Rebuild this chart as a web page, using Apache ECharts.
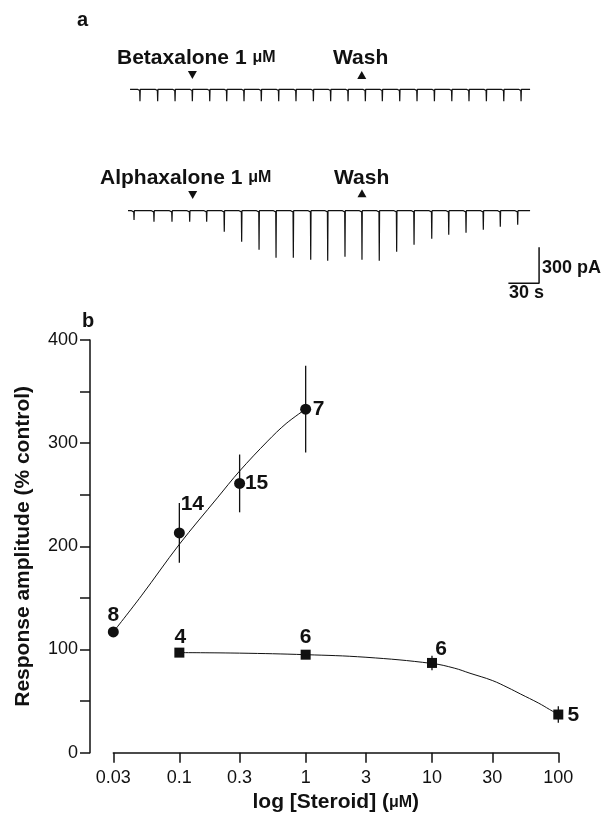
<!DOCTYPE html>
<html><head><meta charset="utf-8">
<script src="https://cdn.jsdelivr.net/npm/echarts@6/dist/echarts.min.js"></script>
<style>html,body{margin:0;padding:0;background:#fff}#c{width:612px;height:815px}</style>
</head><body><div id="c"></div>
<script>
// ---------- Panel b: dose-response ----------
const concA = [0.03, 0.1, 0.3, 1];          // alphaxalone (µM)
const meanA = [117, 213, 261, 333];         // % control
const semA  = [0, 29, 28, 42];
const nA    = [8, 14, 15, 7];
const concB = [0.1, 1, 10, 100];            // betaxalone (µM)
const meanB = [97, 95, 87, 37];
const semB  = [0, 0, 7, 8];
const nB    = [4, 6, 6, 5];
// fitted curves
const fitAx = [0.03, 0.05, 0.1, 0.2, 0.3, 0.5, 0.7, 1];
const fitAy = [117, 152, 202, 247, 273, 302, 319, 333];
const fitBx = [0.1, 0.3, 1, 3, 10, 15, 20, 30, 40, 50, 70, 85, 100];
const fitBy = [97, 96.5, 95, 92.5, 86.5, 82, 77, 70, 63, 57, 48, 42, 37];
const xTicks = [0.03, 0.1, 0.3, 1, 3, 10, 30, 100];
const xTickLabels = ['0.03', '0.1', '0.3', '1', '3', '10', '30', '100'];
const yTicks = [0, 100, 200, 300, 400];

// ---------- Panel a: current traces ----------
const betaTimes  = [11.7, 29, 46, 62.9, 79.9, 96.5, 113.4, 130.3, 147.3, 164.2, 181.2, 198.1, 215.1, 232, 248.6, 265.6, 282.5, 299.5, 316.5, 333.3, 350.3, 367.3, 384.2]; // s
const betaAmps   = [100, 100, 100, 100, 100, 100, 100, 100, 100, 100, 100, 100, 100, 100, 100, 100, 100, 100, 100, 100, 100, 100, 100]; // pA
const alphaTimes = [5.9, 25.4, 43, 60.3, 76.9, 94.1, 111.1, 128.1, 144.7, 161.6, 178.6, 195.2, 212.1, 228.7, 245.6, 262.6, 279.6, 296.9, 313.5, 330.4, 347.3, 363.9, 380.9];
const alphaAmps  = [78, 92, 92, 92, 92, 175, 258, 325, 392, 392, 408, 417, 383, 408, 417, 342, 283, 233, 200, 183, 158, 133, 117];
const betaSpan  = [2, 393];
const alphaSpan = [0, 393];
const betaEvents  = [62.9, 228.5];   // drug on, wash
const alphaEvents = [63.2, 228.7];
const scaleBarTime = 30;   // s
const scaleBarAmp  = 300;  // pA
const scaleBarCorner = [401.8, -605];

const FONT = '"Liberation Sans", Arial, Helvetica, sans-serif';
const INK = '#111';

function buildTrace(times, amps, span) {
  const pts = [[span[0], 0]];
  times.forEach((t, i) => {
    pts.push([t - 2.5, 0], [t - 0.3, -10], [t, -amps[i]], [t + 0.3, 0]);
  });
  pts.push([span[1], 0]);
  return pts;
}
const L = v => Math.log10(v);

const posA = [[0, -17], [13, -29], [17, 0], [13, 0]];
const posB = [[1, -15], [0, -17], [9, -14], [15, 1]];

function errItem(params, api) {
  const x = api.value(0), lo = api.value(1), hi = api.value(2);
  const p1 = api.coord([x, hi]), p2 = api.coord([x, lo]);
  return { type: 'line', shape: { x1: p1[0], y1: p1[1], x2: p2[0], y2: p2[1] },
           style: { stroke: INK, lineWidth: 1.3 } };
}

function txt(x, y, text, size, weight, rich) {
  const s = { text, fill: INK, font: `${weight} ${size}px ${FONT}`, align: 'left', verticalAlign: 'middle' };
  if (rich) s.rich = rich;
  return { type: 'text', x, y, style: s };
}
const unitRich = { u: { font: `bold 16px ${FONT}`, fill: INK } };
const numLabel = { show: true, position: 'inside', color: INK, fontSize: 21, fontWeight: 'bold',
                   fontFamily: FONT, textBorderWidth: 0 };

const chart = echarts.init(document.getElementById('c'), null, { renderer: 'canvas' });
chart.setOption({
  animation: false,
  backgroundColor: '#fff',
  grid: [
    { left: 113.3, right: 53.7, top: 340, bottom: 62.3, containLabel: false, outerBoundsMode: 'none' },
    { left: 128, width: 429.7, top: 65.3, height: 48, outerBoundsMode: 'none' },
    { left: 128, width: 429.7, top: 186.7, height: 108, outerBoundsMode: 'none' }
  ],
  xAxis: [
    {
      gridIndex: 0, type: 'value', min: L(xTicks[0]), max: L(xTicks[xTicks.length - 1]),
      axisLine: { onZero: false, lineStyle: { color: INK, width: 1.5 } },
      axisTick: { customValues: xTicks.map(L), length: 10, lineStyle: { color: INK, width: 1.5 } },
      axisLabel: {
        customValues: xTicks.map(L), margin: 16, color: INK, fontSize: 18, fontFamily: FONT,
        formatter: v => { const i = xTicks.findIndex(t => Math.abs(L(t) - v) < 1e-6); return i >= 0 ? xTickLabels[i] : ''; }
      },
      splitLine: { show: false },
      name: 'log [Steroid] ({u|μM})', nameLocation: 'middle', nameGap: 38,
      nameTextStyle: { color: INK, fontSize: 21, fontWeight: 'bold', fontFamily: FONT,
        rich: { u: { fontSize: 16, fontWeight: 'bold', fontFamily: FONT, color: INK } } }
    },
    { gridIndex: 1, type: 'value', min: 0, max: 420, show: false },
    { gridIndex: 2, type: 'value', min: 0, max: 420, show: false }
  ],
  yAxis: [
    {
      gridIndex: 0, type: 'value', min: 0, max: 400, interval: 50, offset: 23.3,
      axisLine: { show: true, onZero: false, lineStyle: { color: INK, width: 1.5 } },
      axisTick: { show: true, length: 10, lineStyle: { color: INK, width: 1.5 } },
      axisLabel: { margin: 12, color: INK, fontSize: 18, fontFamily: FONT,
        formatter: v => yTicks.includes(v) ? String(v) : '' },
      splitLine: { show: false },
      name: 'Response amplitude (% control)', nameLocation: 'middle', nameGap: 56,
      nameTextStyle: { color: INK, fontSize: 21, fontWeight: 'bold', fontFamily: FONT }
    },
    { gridIndex: 1, type: 'value', min: -200, max: 200, show: false },
    { gridIndex: 2, type: 'value', min: -700, max: 200, show: false }
  ],
  series: [
    { type: 'line', xAxisIndex: 0, yAxisIndex: 0, smooth: 0.35, showSymbol: false, silent: true,
      lineStyle: { color: INK, width: 1 }, data: fitAx.map((x, i) => [L(x), fitAy[i]]) },
    { type: 'line', xAxisIndex: 0, yAxisIndex: 0, smooth: 0.4, showSymbol: false, silent: true,
      lineStyle: { color: INK, width: 1 }, data: fitBx.map((x, i) => [L(x), fitBy[i]]) },
    { type: 'custom', xAxisIndex: 0, yAxisIndex: 0, renderItem: errItem, silent: true,
      data: concA.map((c, i) => [L(c), meanA[i] - semA[i], meanA[i] + semA[i]]) },
    { type: 'custom', xAxisIndex: 0, yAxisIndex: 0, renderItem: errItem, silent: true,
      data: concB.map((c, i) => [L(c), meanB[i] - semB[i], meanB[i] + semB[i]]) },
    { type: 'scatter', xAxisIndex: 0, yAxisIndex: 0, symbol: 'circle', symbolSize: 11,
      itemStyle: { color: INK, opacity: 1 },
      data: concA.map((c, i) => ({ value: [L(c), meanA[i]],
        label: Object.assign({}, numLabel, { offset: posA[i], formatter: String(nA[i]) }) })) },
    { type: 'scatter', xAxisIndex: 0, yAxisIndex: 0, symbol: 'rect', symbolSize: 10,
      itemStyle: { color: INK, opacity: 1 },
      data: concB.map((c, i) => ({ value: [L(c), meanB[i]],
        label: Object.assign({}, numLabel, { offset: posB[i], formatter: String(nB[i]) }) })) },
    // traces
    { type: 'line', xAxisIndex: 1, yAxisIndex: 1, showSymbol: false, silent: true, clip: false,
      lineStyle: { color: INK, width: 1.2 }, data: buildTrace(betaTimes, betaAmps, betaSpan),
      markPoint: { silent: true, symbolSize: [9, 8], itemStyle: { color: INK }, label: { show: false },
        data: [
          { coord: [betaEvents[0], 119], symbol: 'triangle', symbolRotate: 180 },
          { coord: [betaEvents[1], 119], symbol: 'triangle' }
        ] } },
    { type: 'line', xAxisIndex: 2, yAxisIndex: 2, showSymbol: false, silent: true, clip: false,
      lineStyle: { color: INK, width: 1.2 }, data: buildTrace(alphaTimes, alphaAmps, alphaSpan),
      markPoint: { silent: true, symbolSize: [9, 8], itemStyle: { color: INK }, label: { show: false },
        data: [
          { coord: [alphaEvents[0], 131], symbol: 'triangle', symbolRotate: 180 },
          { coord: [alphaEvents[1], 145], symbol: 'triangle' }
        ] } },
    // scale bar
    { type: 'line', xAxisIndex: 2, yAxisIndex: 2, showSymbol: false, silent: true, clip: false,
      lineStyle: { color: INK, width: 1.5 },
      data: [[scaleBarCorner[0] - scaleBarTime, scaleBarCorner[1]], scaleBarCorner,
             [scaleBarCorner[0], scaleBarCorner[1] + scaleBarAmp]] }
  ],
  graphic: [
    txt(77, 20, 'a', 20, 'bold'),
    txt(82, 321, 'b', 20, 'bold'),
    txt(117, 58, 'Betaxalone 1 {u|μM}', 21, 'bold', unitRich),
    txt(333, 58, 'Wash', 21, 'bold'),
    txt(100, 178, 'Alphaxalone 1 {u|μM}', 21, 'bold', unitRich),
    txt(334, 178, 'Wash', 21, 'bold'),
    txt(542, 268, '300 pA', 18, 'bold'),
    txt(509, 293, '30 s', 18, 'bold')
  ]
});
</script>
</body></html>
